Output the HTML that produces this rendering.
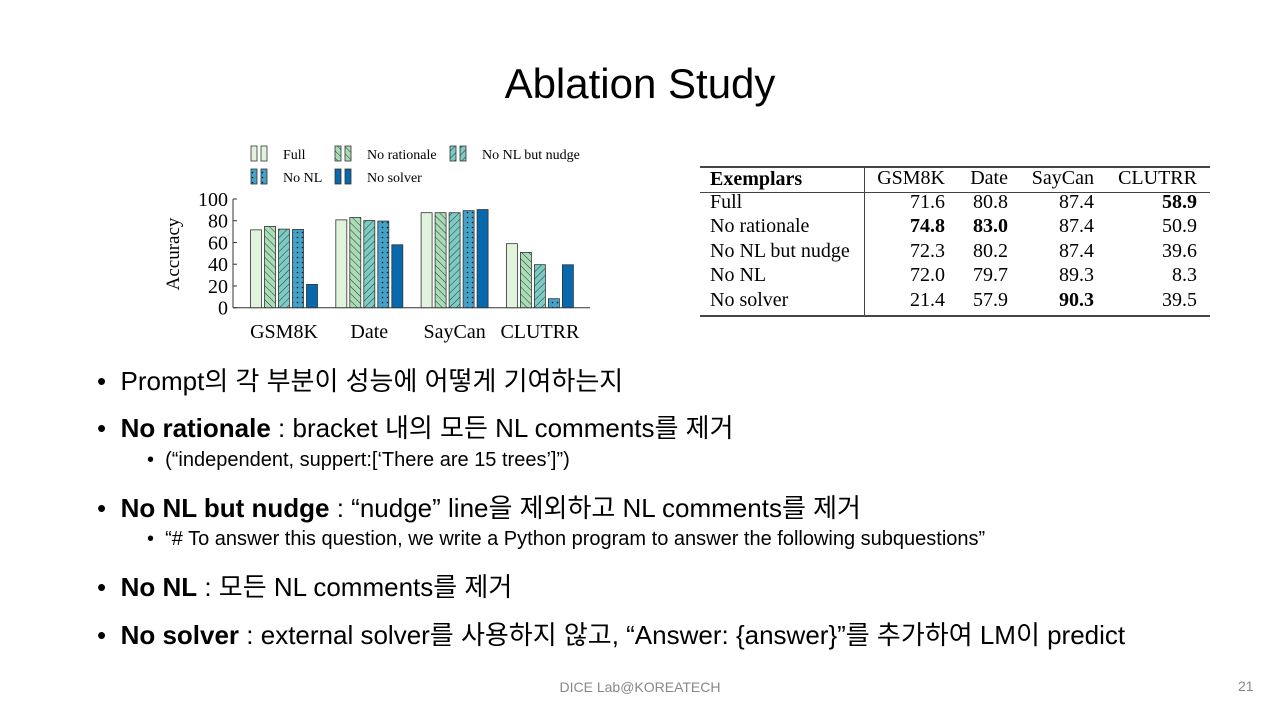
<!DOCTYPE html>
<html><head><meta charset="utf-8"><style>
body{margin:0;width:1280px;height:720px;background:#fff;position:relative;overflow:hidden;font-family:"Liberation Sans","Noto Sans CJK KR",sans-serif;color:#000}
.t{position:absolute;white-space:nowrap}
.b{font-size:26px}
.s{font-size:20px}
.serif{font-family:"Liberation Serif","Noto Serif CJK SC",serif;font-size:20px}
</style></head><body>
<div class="t" style="left:0;width:1280px;text-align:center;top:60px;font-size:42px">Ablation Study</div>

<svg id="chart" width="1280" height="360" style="position:absolute;left:0;top:0">
<defs>
<pattern id="p1" width="5" height="5" patternUnits="userSpaceOnUse" patternTransform="rotate(-45)"><rect width="5" height="5" fill="#a8ddb5"/><line x1="0" y1="0" x2="0" y2="5" stroke="#333" stroke-width="1"/></pattern>
<pattern id="p2" width="5" height="5" patternUnits="userSpaceOnUse" patternTransform="rotate(45)"><rect width="5" height="5" fill="#7bccc4"/><line x1="0" y1="0" x2="0" y2="5" stroke="#333" stroke-width="1"/></pattern>
<pattern id="p3" width="5" height="5" patternUnits="userSpaceOnUse"><rect width="5" height="5" fill="#43a2ca"/><circle cx="2.5" cy="2.5" r="0.8" fill="#111"/></pattern>
</defs>
</svg>

<div class="t serif" style="left:710px;top:168px;font-weight:bold">Exemplars</div>
<div id="tbl"></div>
<div style="position:absolute;left:700px;top:166px;width:510px;height:1.5px;background:#444"></div>
<div style="position:absolute;left:700px;top:192px;width:510px;height:1px;background:#444"></div>
<div style="position:absolute;left:700px;top:315px;width:510px;height:1.5px;background:#444"></div>
<div style="position:absolute;left:864px;top:166px;width:1px;height:150px;background:#444"></div>

<div class="t b" style="left:97px;top:361px">•&nbsp;&nbsp;Prompt의 각 부분이 성능에 어떻게 기여하는지</div>
<div class="t b" style="left:97px;top:408px">•&nbsp;&nbsp;<b>No rationale</b> : bracket 내의 모든 NL comments를 제거</div>
<div class="t s" style="left:147px;top:449px">•&nbsp;&nbsp;(“independent, suppert:[‘There are 15 trees’]”)</div>
<div class="t b" style="left:97px;top:488px">•&nbsp;&nbsp;<b>No NL but nudge</b> : “nudge” line을 제외하고 NL comments를 제거</div>
<div class="t s" style="left:147px;top:528px">•&nbsp;&nbsp;“# To answer this question, we write a Python program to answer the following subquestions”</div>
<div class="t b" style="left:97px;top:567px">•&nbsp;&nbsp;<b>No NL</b> : 모든 NL comments를 제거</div>
<div class="t b" style="left:97px;top:615px">•&nbsp;&nbsp;<b>No solver</b> : external solver를 사용하지 않고, “Answer: {answer}”를 추가하여 LM이 predict</div>

<div class="t" style="left:0;width:1280px;text-align:center;top:679px;font-size:14px;color:#888">DICE Lab@KOREATECH</div>
<div class="t" style="left:1238px;top:678px;font-size:14px;color:#888">21</div>

<script>
const categories=["GSM8K","Date","SayCan","CLUTRR"];
const seriesNames=["Full","No rationale","No NL but nudge","No NL","No solver"];
const full=[71.6,80.8,87.4,58.9];
const noRationale=[74.8,83.0,87.4,50.9];
const noNLNudge=[72.3,80.2,87.4,39.6];
const noNL=[72.0,79.7,89.3,8.3];
const noSolver=[21.4,57.9,90.3,39.5];
const yTicks=[0,20,40,60,80,100];
const boldCells=[[0,3],[1,0],[1,1],[4,2]];

const NS="http://www.w3.org/2000/svg";
const svg=document.getElementById('chart');
const fills=["#e0f3db","url(#p1)","url(#p2)","url(#p3)","#0868ac"];
const series=[full,noRationale,noNLNudge,noNL,noSolver];
const y0=307.7,ppu=1.087;
const Y=v=>y0-v*ppu;
const X=(g,s)=>250.5+g*85.3+s*14;
function mk(tag,attrs){const e=document.createElementNS(NS,tag);for(const k in attrs)e.setAttribute(k,attrs[k]);svg.appendChild(e);return e;}
let ax=mk('line',{x1:233,y1:y0,x2:590,y2:y0,stroke:'#333','stroke-width':1});


let ay=mk('line',{x1:233,y1:Y(100),x2:233,y2:y0,stroke:'#333','stroke-width':1});


yTicks.forEach(t=>{
  let tk=mk('line',{x1:233,x2:237,y1:Y(t),y2:Y(t),stroke:'#333'});
  
  
  let tx=mk('text',{x:228,y:Y(t)+7,'text-anchor':'end','font-family':'Liberation Serif, serif','font-size':20});
  tx.textContent=t;
  
  
});
let yt=mk('text',{x:0,y:0,transform:'translate(179,254) rotate(-90)','text-anchor':'middle','font-family':'Liberation Serif, serif','font-size':19});
yt.textContent='Accuracy';


categories.forEach((c,g)=>{
  series.forEach((arr,s)=>{
    let r=mk('rect',{x:X(g,s),y:Y(arr[g]),width:11,height:arr[g]*ppu,fill:fills[s],stroke:'#333','stroke-width':0.8});
    
    
  });
  let tx=mk('text',{x:X(g,2)+5.5,y:338,'text-anchor':'middle','font-family':'Liberation Serif, serif','font-size':20});
  tx.textContent=c;
  
  
});
const legPos=[[251,154],[335,154],[450,154],[251,177],[335,177]];
seriesNames.forEach((n,i)=>{
  const [lx,ly]=legPos[i];
  [0,10].forEach(dx=>{
    let r=mk('rect',{x:lx+dx,y:ly-8,width:6,height:15,fill:fills[i],stroke:'#333','stroke-width':0.8});
    
    
  });
  let tx=mk('text',{x:lx+32,y:ly+5,'font-family':'Liberation Serif, serif','font-size':14});
  tx.textContent=n;
  
  
});
const tbl=document.getElementById('tbl');
const colRight=[945,1008,1094,1197];
categories.forEach((c,j)=>{
  const d=document.createElement('div');
  d.className='t serif';
  d.style.left=(colRight[j]-120)+'px';d.style.width='120px';d.style.textAlign='right';d.style.top='167px';
  d.textContent=c;
  
  
  tbl.appendChild(d);
});
seriesNames.forEach((n,i)=>{
  const top=191+i*24.4;
  const d=document.createElement('div');
  d.className='t serif';d.style.left='710px';d.style.top=top+'px';d.textContent=n;
  
  
  tbl.appendChild(d);
  series[i].forEach((v,j)=>{
    const e=document.createElement('div');
    e.className='t serif';
    e.style.left=(colRight[j]-80)+'px';e.style.width='80px';e.style.textAlign='right';e.style.top=top+'px';
    e.textContent=v.toFixed(1);
    if(boldCells.some(b=>b[0]===i&&b[1]===j))e.style.fontWeight='bold';
    
    
    tbl.appendChild(e);
  });
});
</script>
</body></html>
